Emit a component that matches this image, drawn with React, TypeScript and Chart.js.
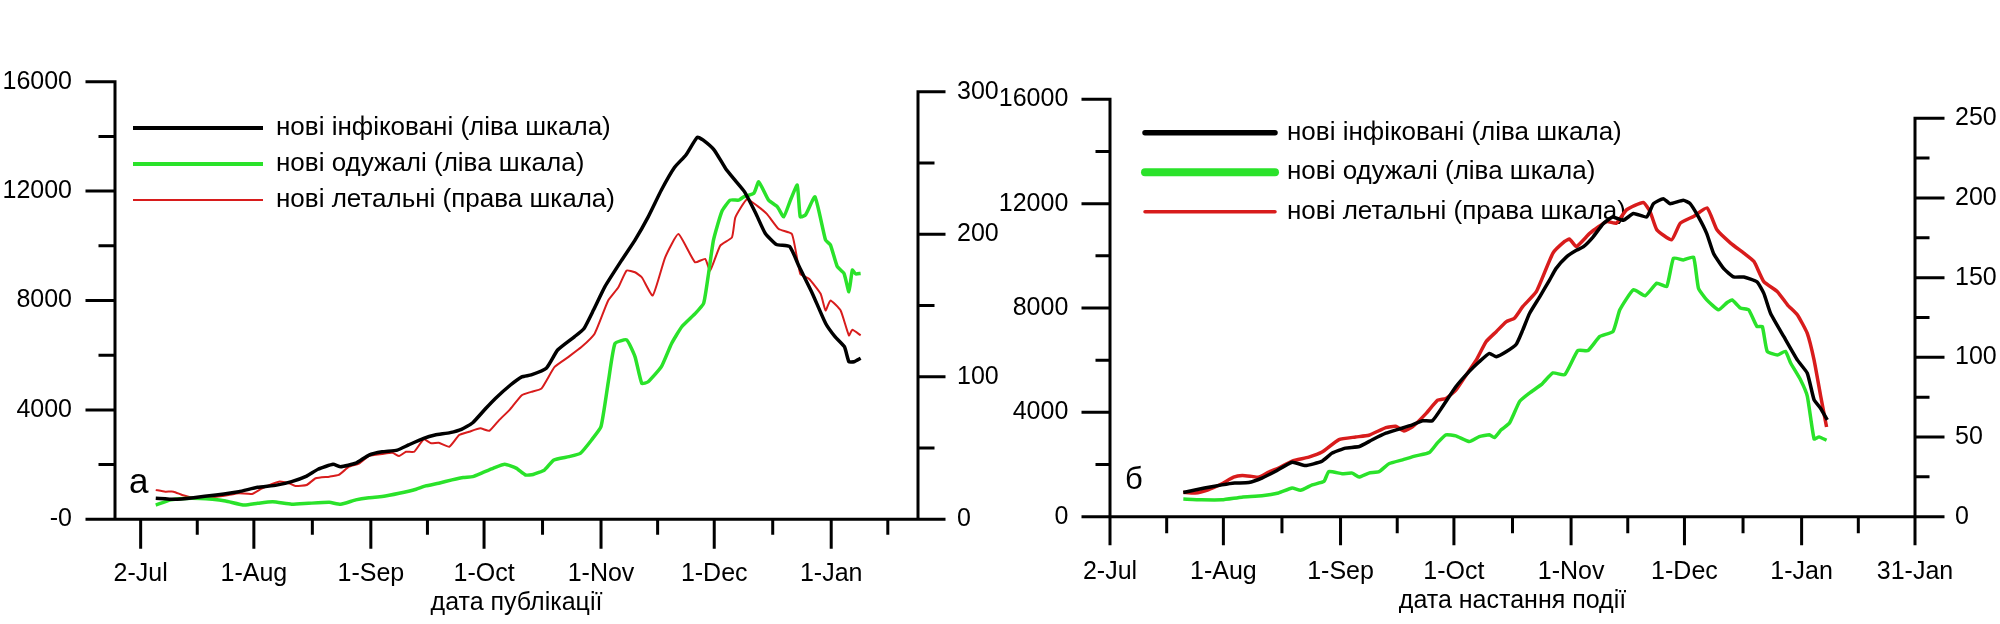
import React, { useEffect, useRef } from 'react';
import { Chart, registerables } from 'chart.js';

Chart.register(...registerables);

const FONT = '"Liberation Sans", Arial, sans-serif';

// ---- panel а: by publication date (days counted from 2-Jul) ----
const pubInfDays = [4, 9, 14, 20, 26, 31, 36, 40, 44, 47, 51, 53, 57, 60.5, 64, 68, 71, 75, 78, 82, 85, 88, 91.5, 94, 98, 101, 103.5, 107.5, 110.5, 115, 117.5, 120, 123, 127.5, 131, 134.5, 138, 141.5, 144.5, 147.5, 149, 152, 155, 157.5, 160, 163, 165.5, 168.5, 172, 174.5, 178, 181.5, 184, 186.5, 187.7, 189, 190.8];
const pubInfected = [770, 730, 790, 890, 1010, 1170, 1250, 1380, 1580, 1830, 2010, 1920, 2050, 2350, 2470, 2530, 2720, 2960, 3080, 3170, 3290, 3530, 4060, 4420, 4910, 5210, 5280, 5520, 6190, 6680, 6980, 7650, 8500, 9480, 10210, 11060, 12040, 12870, 13320, 13970, 13870, 13500, 12830, 12400, 11980, 11190, 10460, 10050, 9970, 9240, 8260, 7170, 6680, 6310, 5760, 5760, 5890];

const pubRecDays = [4, 8, 13.5, 19, 22.5, 27.5, 31, 35, 40, 44.5, 50, 53, 57, 60.5, 64, 68.5, 73, 75.5, 79, 82.5, 85.5, 88, 90.5, 93.5, 96.5, 99.5, 102, 104, 107, 109.5, 113.5, 116.5, 119.5, 122, 124, 125.7, 128.8, 131, 132.8, 134.5, 138, 140.7, 143.4, 147, 149.2, 150.5, 151.8, 154, 156.2, 158.5, 159.8, 162.5, 163.8, 166.4, 168.7, 170.4, 172.2, 174, 174.8, 176.2, 178.7, 181.5, 182.8, 184.6, 186.4, 187.7, 188.6, 189.5, 190.8];
const pubRecovered = [520, 710, 770, 730, 670, 520, 585, 640, 550, 585, 620, 550, 710, 790, 830, 950, 1100, 1220, 1320, 1440, 1530, 1560, 1700, 1870, 2010, 1870, 1620, 1640, 1800, 2170, 2290, 2410, 2900, 3390, 5090, 6430, 6560, 5950, 4970, 5030, 5580, 6430, 7040, 7530, 7900, 8990, 10210, 11250, 11670, 11670, 11790, 11920, 12340, 11670, 11430, 11060, 11670, 12220, 11060, 11130, 11790, 10210, 10030, 9240, 8990, 8320, 9110, 8970, 8990];

const pubDeathDays = [4, 6.5, 8.7, 11, 14.4, 19, 23.3, 26, 29.5, 32.2, 36.6, 39.3, 41, 44, 46.4, 50, 52.5, 55.2, 58, 60.5, 64, 66.7, 68.5, 70.3, 72.5, 75, 77, 79, 81.8, 84.4, 87, 90, 92.4, 95, 97.7, 101, 103.5, 106.2, 109.7, 113.3, 116.8, 120.3, 123.9, 126.6, 128.8, 131, 132.8, 135.7, 139, 142.5, 146.9, 149.6, 150.9, 153.6, 156.7, 157.6, 160.7, 163.4, 166, 169.1, 172.6, 174.8, 177.1, 180.2, 181.5, 182.8, 185.5, 187.7, 188.6, 190.8];
const pubDeaths = [20.6, 19.4, 19.4, 17.1, 14.8, 15.5, 17.1, 18.3, 17.8, 21.8, 26.4, 25.3, 23.4, 24.1, 28.8, 29.9, 31.1, 36.9, 39.3, 44.4, 45.8, 46.7, 44.4, 47.4, 47.4, 56.1, 53.3, 53.7, 50.9, 59.1, 61.4, 63.8, 62.1, 69.6, 76.6, 87.1, 89.4, 91.7, 106.9, 113.8, 120.8, 130.2, 153.5, 162.8, 174.5, 173.3, 169.8, 157, 183.8, 200.1, 180.3, 182.7, 174.5, 192, 197.8, 211.8, 224.6, 219.9, 214.1, 203.6, 200.1, 172.2, 168.7, 158.2, 146.5, 153.5, 146.5, 129, 133, 129];

// ---- panel б: by event date ----
const evtInfDays = [19.4, 25, 29.6, 33, 36.7, 40.2, 43.7, 48.2, 51.7, 56, 58.8, 62.3, 66, 69.4, 73, 76.5, 80, 82.7, 85.3, 88, 91.5, 95, 97.7, 100.4, 102.2, 104.8, 107.5, 109.2, 111, 113.7, 116.3, 118, 120.8, 123.4, 125.2, 127.8, 130.5, 133, 135.8, 138.5, 142, 143.8, 146.4, 148.2, 151.7, 153.5, 155.7, 157.9, 159.7, 162.4, 165, 167.7, 171.2, 173, 174.8, 178.3, 181.9, 184.5, 186.3, 188, 189.8];
const evtInfected = [930, 1100, 1220, 1290, 1310, 1480, 1730, 2090, 1960, 2120, 2440, 2630, 2690, 2950, 3200, 3360, 3520, 3680, 3680, 4220, 4980, 5560, 5940, 6260, 6130, 6320, 6610, 7150, 7790, 8430, 9070, 9510, 9960, 10210, 10340, 10720, 11230, 11490, 11360, 11620, 11490, 12000, 12190, 12000, 12130, 12000, 11490, 10850, 10090, 9510, 9190, 9190, 9000, 8560, 7790, 6900, 6000, 5500, 4480, 4160, 3710];

const evtRecDays = [19.4, 24.2, 29.6, 34.9, 40.2, 44.6, 48.2, 50.4, 53.5, 56.6, 57.9, 61.4, 64.1, 65.9, 68.5, 71.2, 73.8, 77.4, 80.9, 84.5, 86.7, 88.9, 91.5, 95.1, 97.7, 100.4, 101.7, 103.5, 105.7, 108.4, 111, 114.1, 117.2, 120.3, 123.8, 126.5, 129.6, 133.1, 134.9, 138.5, 141.6, 144.7, 147.3, 149.1, 151.7, 154.4, 155.7, 157.9, 161, 163.3, 164.6, 166.8, 169, 171.2, 172.6, 173.9, 176.6, 178.7, 180.1, 182.7, 184.5, 186.3, 187.6, 189.6];
const evtRecovered = [680, 650, 650, 750, 800, 910, 1100, 1010, 1220, 1350, 1730, 1650, 1670, 1520, 1670, 1730, 2030, 2180, 2330, 2460, 2840, 3140, 3100, 2880, 3070, 3140, 3030, 3330, 3590, 4420, 4740, 5060, 5510, 5440, 6370, 6370, 6910, 7100, 7930, 8700, 8470, 8950, 8820, 9910, 9840, 9950, 8760, 8310, 7930, 8210, 8310, 8000, 7930, 7290, 7290, 6340, 6200, 6340, 5890, 5250, 4620, 2980, 3060, 2930];

const evtDeathDays = [19.4, 22.5, 26, 29.6, 32.7, 35, 37.5, 39.3, 42, 44.6, 48.2, 52.6, 56.1, 60.6, 65, 68.5, 73, 75.6, 77.8, 80, 83.6, 86.7, 88.9, 91.5, 94.2, 96.9, 99.5, 102.2, 104.8, 107, 109.2, 112.8, 117.2, 120.3, 121.6, 123.4, 127, 131.4, 134, 136.7, 141.1, 142.9, 144.7, 148.6, 150.9, 154.4, 158, 160.6, 164.2, 167.7, 170.4, 173, 176.6, 179.3, 181.9, 184.5, 186.3, 188, 189.6];
const evtDeaths = [15.4, 14.8, 16.9, 20.7, 24.8, 25.9, 25.3, 24.8, 28, 30.5, 34.9, 37.4, 40.6, 48.4, 50, 51.1, 55.9, 56.7, 53.8, 56.3, 64.7, 73.1, 74.2, 79.4, 88.8, 98.2, 109.8, 116.1, 122.3, 124.5, 131.8, 141.2, 165.4, 172.7, 174.2, 169.5, 177.9, 185.2, 184.2, 192.6, 197.2, 191.5, 180, 173.7, 184.2, 188.4, 193.7, 180, 171.7, 165.4, 160.1, 147.5, 141.2, 132.8, 126.6, 115, 98.2, 76.2, 56.3];

// ---- axes ----
const dateTicks = [0, 30, 61, 91, 122, 152, 183, 213];
const dateLabels = ['2-Jul', '1-Aug', '1-Sep', '1-Oct', '1-Nov', '1-Dec', '1-Jan', '31-Jan'];
const dateMinor = [15, 45.5, 76, 106.5, 137, 167.5, 198];

const casesTicks = [0, 4000, 8000, 12000, 16000];
const casesMinor = [2000, 6000, 10000, 14000];
const pubCasesLabels = ['-0', '4000', '8000', '12000', '16000'];
const evtCasesLabels = ['0', '4000', '8000', '12000', '16000'];

const pubDeathTicks = [0, 100, 200, 300];
const pubDeathMinor = [50, 150, 250];
const evtDeathTicks = [0, 50, 100, 150, 200, 250];
const evtDeathMinor = [25, 75, 125, 175, 225];

const seriesNames = ['нові інфіковані (ліва шкала)', 'нові одужалі (ліва шкала)', 'нові летальні (права шкала)'];

const BLACK = '#000000';
const GREEN = '#2ae22a';
const RED = '#d81c1c';

const pts = (xs: number[], ys: number[]) => xs.map((x, i) => ({ x, y: ys[i] }));

// axis lines + major/minor tick marks, drawn through the chart scales
const axisMarks = {
  id: 'axisMarks',
  afterDatasetsDraw(chart: any, _args: any, opts: any) {
    const { ctx, chartArea: a } = chart;
    ctx.save();
    ctx.strokeStyle = '#000';
    ctx.lineWidth = 3;
    ctx.lineCap = 'square';
    ctx.beginPath();
    for (const ax of opts.axes) {
      const s = chart.scales[ax.id];
      if (ax.side === 'bottom') {
        const y = a.bottom;
        ctx.moveTo(a.left, y);
        ctx.lineTo(a.right, y);
        ax.major.forEach((v: number) => {
          const p = s.getPixelForValue(v);
          ctx.moveTo(p, y);
          ctx.lineTo(p, y + ax.majorLen);
        });
        ax.minor.forEach((v: number) => {
          const p = s.getPixelForValue(v);
          if (p < a.left || p > a.right) return;
          ctx.moveTo(p, y);
          ctx.lineTo(p, y + ax.minorLen);
        });
      } else {
        const x = ax.side === 'left' ? a.left : a.right;
        const dir = ax.side === 'left' ? -1 : 1;
        ctx.moveTo(x, s.getPixelForValue(ax.major[ax.major.length - 1]));
        ctx.lineTo(x, s.getPixelForValue(0));
        ax.major.forEach((v: number) => {
          const p = s.getPixelForValue(v);
          ctx.moveTo(x, p);
          ctx.lineTo(x + dir * ax.majorLen, p);
        });
        ax.minor.forEach((v: number) => {
          const p = s.getPixelForValue(v);
          ctx.moveTo(x, p);
          ctx.lineTo(x + dir * ax.minorLen, p);
        });
      }
    }
    ctx.stroke();
    ctx.restore();
  },
};

// legend inside the plot + panel letter
const lineLegend = {
  id: 'lineLegend',
  beforeDatasetsDraw(chart: any, _args: any, opts: any) {
    const ctx = chart.ctx;
    ctx.save();
    ctx.font = `${opts.fontSize}px ${FONT}`;
    ctx.textBaseline = 'middle';
    ctx.fillStyle = '#000';
    ctx.lineCap = opts.cap;
    chart.data.datasets.forEach((ds: any, i: number) => {
      const y = opts.y0 + i * opts.dy;
      ctx.strokeStyle = ds.borderColor;
      ctx.lineWidth = opts.widths[i];
      ctx.beginPath();
      ctx.moveTo(opts.x0, y);
      ctx.lineTo(opts.x1, y);
      ctx.stroke();
      ctx.fillText(ds.label, opts.textX, y);
    });
    ctx.font = `${opts.letterSize}px ${FONT}`;
    ctx.textBaseline = 'alphabetic';
    ctx.fillText(opts.letter, opts.letterX, opts.letterY);
    ctx.restore();
  },
};

const tickFont = { size: 25, family: FONT };

function buildConfig(p: any) {
  return {
    type: 'line',
    data: {
      datasets: [
        { label: seriesNames[0], data: p.infected, borderColor: BLACK, borderWidth: p.lineWidths[0], yAxisID: 'y' },
        { label: seriesNames[1], data: p.recovered, borderColor: GREEN, borderWidth: p.lineWidths[1], yAxisID: 'y' },
        { label: seriesNames[2], data: p.deaths, borderColor: RED, borderWidth: p.lineWidths[2], yAxisID: 'y1' },
      ],
    },
    options: {
      responsive: false,
      animation: false,
      events: [],
      layout: { padding: { top: p.top, left: 0, right: 0, bottom: 0 } },
      elements: { point: { radius: 0 }, line: { tension: 0.15, fill: false } },
      plugins: {
        legend: { display: false },
        tooltip: { enabled: false },
        axisMarks: {
          axes: [
            { id: 'y', side: 'left', major: casesTicks, minor: casesMinor, majorLen: p.yMajor, minorLen: p.yMinor },
            { id: 'y1', side: 'right', major: p.deathTicks, minor: p.deathMinor, majorLen: p.y1Major, minorLen: p.y1Minor },
            { id: 'x', side: 'bottom', major: p.xTicks, minor: dateMinor, majorLen: p.xMajor, minorLen: p.xMinor },
          ],
        },
        lineLegend: p.legend,
      },
      scales: {
        x: {
          type: 'linear',
          position: 'bottom',
          min: p.xMin,
          max: p.xMax,
          grid: { display: false, drawTicks: false },
          border: { display: false },
          afterBuildTicks: (s: any) => { s.ticks = p.xTicks.map((v: number) => ({ value: v })); },
          afterFit: (s: any) => { s.height = p.xHeight; },
          ticks: {
            autoSkip: false,
            maxRotation: 0,
            padding: p.xPad,
            color: '#000',
            font: tickFont,
            callback: (_v: any, i: number) => dateLabels[i],
          },
          title: {
            display: true,
            text: p.xTitle,
            color: '#000',
            font: tickFont,
            padding: { top: 0, bottom: p.titlePad },
          },
        },
        y: {
          type: 'linear',
          position: 'left',
          min: 0,
          max: 16000,
          grid: { display: false, drawTicks: false },
          border: { display: false },
          afterBuildTicks: (s: any) => { s.ticks = casesTicks.map((v) => ({ value: v })); },
          afterFit: (s: any) => { s.width = p.yWidth; },
          ticks: { padding: p.yPad, color: '#000', font: tickFont, callback: (_v: any, i: number) => p.casesLabels[i] },
        },
        y1: {
          type: 'linear',
          position: 'right',
          min: 0,
          max: p.deathMax,
          grid: { display: false, drawTicks: false },
          border: { display: false },
          afterBuildTicks: (s: any) => { s.ticks = p.deathTicks.map((v: number) => ({ value: v })); },
          afterFit: (s: any) => { s.width = p.y1Width; },
          ticks: { padding: p.y1Pad, color: '#000', font: tickFont, callback: (_v: any, i: number) => String(p.deathTicks[i]) },
        },
      },
    },
    plugins: [axisMarks, lineLegend],
  };
}

const pubPanel = () => buildConfig({
  infected: pts(pubInfDays, pubInfected),
  recovered: pts(pubRecDays, pubRecovered),
  deaths: pts(pubDeathDays, pubDeaths),
  lineWidths: [3.5, 3.5, 2],
  top: 81.7,
  xMin: -6.8,
  xMax: 206,
  xTicks: dateTicks.slice(0, 7),
  xHeight: 104.7,
  xPad: 40,
  xTitle: 'дата публікації',
  titlePad: 6,
  casesLabels: pubCasesLabels,
  yWidth: 115,
  yPad: 43,
  deathMax: 307,
  deathTicks: pubDeathTicks,
  deathMinor: pubDeathMinor,
  y1Width: 82,
  y1Pad: 39,
  yMajor: 28, yMinor: 15, y1Major: 26, y1Minor: 15, xMajor: 28, xMinor: 14,
  legend: { x0: 133, x1: 263, textX: 276, y0: 128, dy: 36, widths: [4, 4, 2], cap: 'butt', fontSize: 26, letter: 'а', letterX: 129, letterY: 493, letterSize: 35 },
});

const evtPanel = () => buildConfig({
  infected: pts(evtInfDays, evtInfected),
  recovered: pts(evtRecDays, evtRecovered),
  deaths: pts(evtDeathDays, evtDeaths),
  lineWidths: [3.5, 3.5, 3.5],
  top: 99.3,
  xMin: 0,
  xMax: 213,
  xTicks: dateTicks,
  xHeight: 107.3,
  xPad: 40,
  xTitle: 'дата настання події',
  titlePad: 8,
  casesLabels: evtCasesLabels,
  yWidth: 110,
  yPad: 41.7,
  deathMax: 261.9,
  deathTicks: evtDeathTicks,
  deathMinor: evtDeathMinor,
  y1Width: 85,
  y1Pad: 40,
  yMajor: 27, yMinor: 13, y1Major: 28, y1Minor: 13, xMajor: 27, xMinor: 15,
  legend: { x0: 145, x1: 275, textX: 287, y0: 132.7, dy: 39.5, widths: [5.5, 8, 3.5], cap: 'round', fontSize: 26, letter: 'б', letterX: 125, letterY: 489, letterSize: 31 },
});

const PanelChart: React.FC<{ build: () => any; left: number }> = ({ build, left }) => {
  const canvasRef = useRef<HTMLCanvasElement | null>(null);

  useEffect(() => {
    if (!canvasRef.current) return;
    const chart = new Chart(canvasRef.current, build());
    return () => {
      chart.destroy();
    };
  }, [build]);

  return (
    <div style={{ position: 'absolute', left, top: 0, width: 1000, height: 624 }}>
      <canvas ref={canvasRef} width={1000} height={624} style={{ display: 'block', width: 1000, height: 624 }} />
    </div>
  );
};

const App: React.FC = () => (
  <div style={{ position: 'absolute', left: 0, top: 0, width: 2000, height: 624, background: '#fff', overflow: 'hidden' }}>
    <PanelChart build={pubPanel} left={0} />
    <PanelChart build={evtPanel} left={1000} />
  </div>
);

export default App;
